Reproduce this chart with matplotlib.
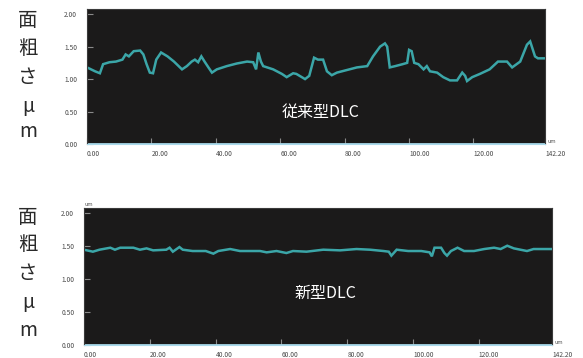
import matplotlib
matplotlib.use("Agg")
import matplotlib.pyplot as plt

plt.rcParams['font.family'] = ['Noto Sans CJK JP', 'DejaVu Sans']

# 従来型DLC (上のグラフ)
x_old = [0, 2.5, 4, 5, 7, 9, 11, 12, 13, 14.5, 16.5, 17.5, 18.5, 19.5, 20.5, 21.5, 23, 25,
         27, 29.5, 31, 32.5, 33.5, 34.5, 35.5, 36.5, 37.7, 38.8, 40.3, 43.4, 46.5, 49.7,
         51.6, 52.5, 53.2, 54, 54.7, 57.8, 60.5, 62, 64, 65, 67.7, 69, 70.5, 71.7, 73.3,
         74.5, 76, 77.6, 80.7, 83.8, 87, 88.8, 91, 92.5, 93.2, 94, 95.7, 98, 99.4, 100,
         100.8, 101.6, 102.9, 104.5, 105.5, 106.5, 108.7, 110.6, 112.7, 114.9, 116.5,
         117.4, 118, 119.6, 122, 125, 127.6, 130.4, 132, 134.5, 136.6, 137.6, 139.1, 140,
         142.2]
y_old = [1.18, 1.12, 1.09, 1.23, 1.26, 1.27, 1.30, 1.38, 1.35, 1.43, 1.44, 1.38, 1.23, 1.10,
         1.09, 1.30, 1.41, 1.35, 1.27, 1.15, 1.20, 1.27, 1.30, 1.26, 1.35, 1.27, 1.18, 1.10,
         1.15, 1.20, 1.24, 1.27, 1.26, 1.15, 1.41, 1.27, 1.20, 1.15, 1.08, 1.03, 1.09, 1.08,
         1.00, 1.05, 1.33, 1.30, 1.30, 1.12, 1.06, 1.10, 1.14, 1.18, 1.20, 1.35, 1.50, 1.55,
         1.50, 1.18, 1.20, 1.23, 1.25, 1.45, 1.43, 1.25, 1.23, 1.15, 1.20, 1.12, 1.10, 1.03,
         0.98, 0.98, 1.10, 1.05, 0.97, 1.03, 1.08, 1.15, 1.27, 1.27, 1.18, 1.27, 1.53, 1.58,
         1.35, 1.32, 1.32]

# 新型DLC (下のグラフ)
x_new = [0, 2.7, 4.7, 8, 9.4, 11, 15, 17, 19, 21, 25, 26, 27, 29, 30, 33, 37, 39.3, 40.8,
         44.4, 47.4, 53.5, 55.5, 58.5, 61.5, 63.5, 67.6, 72.7, 77.8, 82.8, 86.9, 91, 92.6,
         93.4, 95, 98.5, 102.5, 105, 105.7, 106.5, 108.5, 109.5, 110.3, 111.5, 113.5, 115.5,
         118.5, 121.6, 124.6, 126.6, 128.6, 130.6, 132.6, 134.6, 136.6, 142.2]
y_new = [1.44, 1.41, 1.44, 1.47, 1.44, 1.47, 1.47, 1.44, 1.46, 1.43, 1.44, 1.47, 1.41, 1.48,
         1.44, 1.42, 1.42, 1.38, 1.42, 1.45, 1.42, 1.42, 1.40, 1.42, 1.39, 1.42, 1.41, 1.44,
         1.43, 1.45, 1.44, 1.42, 1.41, 1.35, 1.44, 1.42, 1.42, 1.40, 1.34, 1.47, 1.47, 1.39,
         1.35, 1.42, 1.47, 1.42, 1.42, 1.45, 1.47, 1.45, 1.50, 1.46, 1.44, 1.42, 1.45, 1.45]

xticks = [0, 20, 40, 60, 80, 100, 120, 142.2]
xtick_labels = ["0.00", "20.00", "40.00", "60.00", "80.00", "100.00", "120.00", "142.20"]
yticks = [0, 0.5, 1.0, 1.5, 2.0]
ytick_labels = ["0.00", "0.50", "1.00", "1.50", "2.00"]
ylabel_chars = ["面", "粗", "さ", "μ", "m"]

bg = "#1b1a1a"
teal = "#3ba6a8"
pale = "#a9d9ea"

fig = plt.figure(figsize=(5.83, 3.58), dpi=100)
ax1 = fig.add_axes([87 / 583, 1 - 144 / 358, 458 / 583, 135 / 358])
ax2 = fig.add_axes([84 / 583, 1 - 345 / 358, 468 / 583, 137 / 358])

panels = [
    (ax1, x_old, y_old, "従来型DLC", 0.51, 0.23, 2.08),
    (ax2, x_new, y_new, "新型DLC", 0.515, 0.38, 2.07),
]

for ax, xs, ys, name, tx, ty, ytop in panels:
    ax.set_facecolor(bg)
    ax.plot(xs, ys, color=teal, lw=1.8, solid_joinstyle="miter")
    ax.axhline(0.0, color=pale, lw=2.0)
    ax.set_xlim(0, 142.2)
    ax.set_ylim(0, ytop)
    ax.set_xticks(xticks)
    ax.set_xticklabels(xtick_labels, ha="left")
    ax.set_yticks(yticks)
    ax.set_yticklabels(ytick_labels)
    ax.tick_params(axis="both", direction="in", length=4, width=0.8, color="#8a8a8a",
                   labelsize=4.8, labelcolor="#4a4a4a")
    ax.tick_params(axis="x", pad=4)
    ax.tick_params(axis="y", pad=7)
    for s in ["left", "top", "right"]:
        ax.spines[s].set_color("#3a3a3a")
    ax.spines["bottom"].set_color(pale)
    ax.text(tx, ty, name, transform=ax.transAxes, color="white", fontsize=11.5,
            ha="center", va="center")
    ax.text(1.005, 0.0, "um", transform=ax.transAxes, color="#555555", fontsize=4,
            ha="left", va="bottom")

ax2.text(0.0, 1.01, "um", transform=ax2.transAxes, color="#555555", fontsize=4,
         ha="left", va="bottom")

# 縦書きの軸ラベル
top_rows = [20, 48, 78, 107, 132]
bottom_rows = [217, 245, 273, 303, 330]
for rows in (top_rows, bottom_rows):
    for ch, py in zip(ylabel_chars, rows):
        fig.text(28 / 583, 1 - py / 358, ch, fontsize=14, color="#2a2a2a",
                 ha="center", va="center")

fig.savefig("out.png", dpi=100)
